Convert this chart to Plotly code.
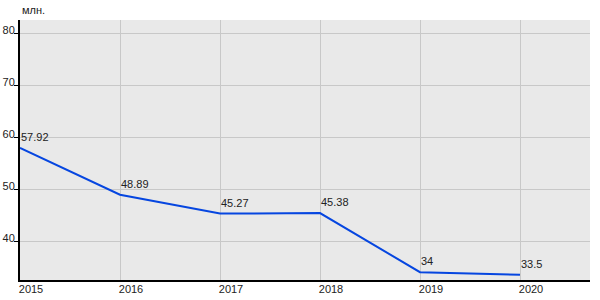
import plotly.graph_objects as go

years = [2015, 2016, 2017, 2018, 2019, 2020]
values = [57.92, 48.89, 45.27, 45.38, 34, 33.5]
labels = ["57.92", "48.89", "45.27", "45.38", "34", "33.5"]
y_ticks = [40, 50, 60, 70, 80]
unit = "млн."

fig = go.Figure()
fig.add_trace(go.Scatter(
    x=years, y=values, mode="lines",
    line=dict(color="#0646e0", width=2),
    hoverinfo="skip",
))
annots = [dict(text=unit, x=0, y=1, xref="paper", yref="paper",
               xanchor="left", yanchor="bottom", yshift=2, showarrow=False,
               font=dict(size=11, color="#222"))]
for xv, yv, t in zip(years, values, labels):
    annots.append(dict(text=t, x=xv, y=yv, xref="x", yref="y",
                       xanchor="left", yanchor="bottom", xshift=-1, yshift=3,
                       showarrow=False, font=dict(size=11, color="#222")))
fig.update_layout(
    width=600, height=300,
    margin=dict(l=20, r=10, t=20, b=20, autoexpand=False),
    paper_bgcolor="white", plot_bgcolor="#e9e9e9",
    showlegend=False,
    font=dict(family="Liberation Sans, Arial", size=11, color="#222"),
    annotations=annots,
)
fig.update_xaxes(
    range=[2015, 2020.7], tickvals=years, ticktext=[str(y) for y in years],
    showgrid=True, gridcolor="#c8c8c8", gridwidth=1,
    showline=True, linecolor="black", linewidth=2,
    ticks="", ticklabelshift=11, ticklabelstandoff=-2, zeroline=False,
    automargin=False,
)
fig.update_yaxes(
    range=[32.5, 82.5], tickvals=y_ticks,
    showgrid=True, gridcolor="#c8c8c8", gridwidth=1,
    showline=True, linecolor="black", linewidth=2,
    ticks="outside", ticklen=4, tickcolor="black", ticklabelshift=-3, ticklabelstandoff=-3,
    zeroline=False, automargin=False,
)
fig.write_html("out.html")
